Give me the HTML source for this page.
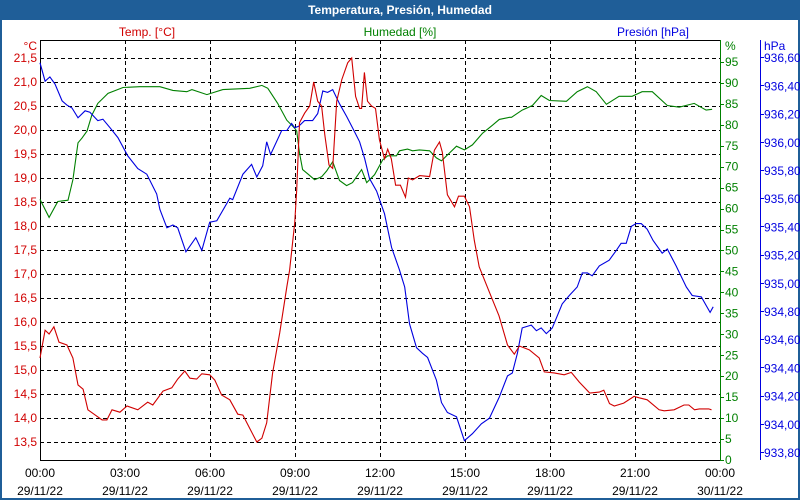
<!DOCTYPE html>
<html><head><meta charset="utf-8">
<style>
html,body{margin:0;padding:0;background:#fff;}
#win{position:relative;width:800px;height:500px;overflow:hidden;background:#fff;font-family:"Liberation Sans",sans-serif;}
#title{position:absolute;left:0;top:0;width:800px;height:20px;background:#1f5e98;color:#fff;font-weight:bold;font-size:12px;text-align:center;line-height:20px;}
#bl{position:absolute;left:0;top:20px;width:2px;height:480px;background:#1f5e98;}
#br{position:absolute;right:0;top:20px;width:2px;height:480px;background:#1f5e98;}
#bb{position:absolute;left:0;bottom:0;width:800px;height:2px;background:#1f5e98;}
svg{position:absolute;left:0;top:0;}
svg text{font-family:"Liberation Sans",sans-serif;font-size:12px;}
</style></head><body>
<div id="win">
<div id="title">Temperatura, Presión, Humedad</div>
<div id="bl"></div>
<div id="br"></div>
<div id="bb"></div>
<svg id="chart" width="800" height="500"></svg>
</div>
<script>
const timeTicks=["00:00","03:00","06:00","09:00","12:00","15:00","18:00","21:00","00:00"];
const dateTicks=["29/11/22","29/11/22","29/11/22","29/11/22","29/11/22","29/11/22","29/11/22","29/11/22","30/11/22"];
const tempTicks=[13.5,14.0,14.5,15.0,15.5,16.0,16.5,17.0,17.5,18.0,18.5,19.0,19.5,20.0,20.5,21.0,21.5];
const humTicks=[0,5,10,15,20,25,30,35,40,45,50,55,60,65,70,75,80,85,90,95];
const presTicks=[933.8,934.0,934.2,934.4,934.6,934.8,935.0,935.2,935.4,935.6,935.8,936.0,936.2,936.4,936.6];

const tempH=[0,0.18,0.32,0.49,0.67,0.95,1.16,1.34,1.52,1.69,2.19,2.36,2.54,2.82,3.07,3.45,3.8,3.98,4.34,4.65,4.86,5.11,5.29,5.53,5.71,5.99,6.17,6.41,6.7,6.98,7.16,7.65,7.83,8.0,8.21,8.46,8.71,8.81,8.99,9.06,9.16,9.34,9.52,9.66,9.8,9.94,10.05,10.2,10.33,10.47,10.65,10.86,11.0,11.14,11.28,11.35,11.45,11.56,11.7,11.84,11.98,12.16,12.27,12.4,12.55,12.72,12.9,13.0,13.15,13.4,13.75,13.92,14.1,14.2,14.38,14.63,14.77,14.98,15.16,15.33,15.5,15.86,16.2,16.5,16.74,16.92,17.27,17.62,17.8,18.15,18.5,18.75,19.03,19.4,19.74,19.9,20.1,20.27,20.6,20.97,21.15,21.43,21.85,22.03,22.38,22.73,22.9,23.1,23.27,23.6,23.7];
const tempV=[15.25,15.83,15.75,15.9,15.58,15.52,15.25,14.69,14.6,14.17,13.96,13.96,14.17,14.12,14.25,14.17,14.33,14.27,14.56,14.63,14.81,14.98,14.83,14.81,14.92,14.9,14.79,14.48,14.38,14.08,14.06,13.5,13.58,13.9,14.94,15.77,16.73,17.08,18.06,18.75,20.15,20.35,20.5,21.0,20.6,20.5,19.9,19.27,19.2,20.6,21.05,21.4,21.5,20.7,20.45,20.45,21.2,20.6,20.5,20.45,19.8,19.4,19.6,19.4,18.85,18.85,18.6,19.0,18.96,19.05,19.03,19.58,19.75,19.54,18.65,18.4,18.62,18.62,18.4,17.7,17.15,16.62,16.13,15.52,15.33,15.5,15.42,15.25,14.96,14.94,14.9,14.95,14.75,14.52,14.54,14.58,14.3,14.25,14.31,14.45,14.42,14.38,14.17,14.15,14.17,14.27,14.27,14.17,14.19,14.19,14.17];

const humH=[0,0.32,0.63,0.99,1.16,1.34,1.48,1.66,1.83,2.04,2.4,2.93,3.52,4.23,4.69,5.18,5.36,5.89,6.45,7.4,7.83,8.04,8.39,8.71,8.99,9.06,9.16,9.27,9.45,9.69,9.94,10.12,10.33,10.57,10.82,11.03,11.35,11.53,11.81,12.09,12.27,12.58,12.69,12.97,13.15,13.39,13.75,13.99,14.17,14.38,14.7,14.98,15.26,15.62,15.97,16.21,16.57,16.64,17.02,17.38,17.69,17.98,18.58,18.96,19.32,19.63,19.99,20.44,20.9,21.25,21.61,22.14,22.56,23.09,23.51,23.72];
const humV=[62.2,57.9,61.7,62,66.9,75.7,76.8,78.5,82.3,85.1,87.5,88.9,89.1,89.1,88.2,87.9,88.4,87.2,88.4,88.7,89.4,88.7,85.1,81.1,79.2,78.5,73.3,69.3,68.3,66.9,67.6,69,71.2,66.7,65.5,66.2,69.3,66.2,68.1,71.6,72.6,72.6,73.8,74.2,73.8,74,73.8,72.1,71.4,72.8,74.9,74,75.2,78,79.9,81.3,81.8,81.8,83.5,84.6,87,85.8,85.6,87.9,89.1,87.9,84.9,86.8,86.8,87.9,87.9,84.6,84.2,85.1,83.5,83.7];

const presH=[0,0.18,0.35,0.53,0.78,0.95,1.13,1.34,1.59,1.76,2.04,2.22,2.47,2.75,3.1,3.45,3.77,4.12,4.23,4.48,4.69,4.86,5.15,5.5,5.71,5.99,6.24,6.7,6.8,7.16,7.47,7.65,7.86,8.0,8.14,8.53,8.71,8.88,8.99,9.13,9.34,9.62,9.8,9.98,10.15,10.33,10.57,10.82,11.03,11.28,11.46,11.63,11.88,12.16,12.41,12.69,12.87,13.04,13.29,13.5,13.68,13.99,14.17,14.38,14.7,14.98,15.26,15.58,15.86,16.21,16.5,16.67,16.85,17.02,17.34,17.52,17.69,17.87,18.08,18.43,18.68,18.96,19.14,19.32,19.49,19.74,20.09,20.34,20.51,20.69,20.87,21.04,21.22,21.43,21.64,21.96,22.14,22.45,22.81,23.02,23.34,23.51,23.65,23.76];
const presV=[936.56,936.43,936.46,936.41,936.29,936.26,936.24,936.17,936.22,936.21,936.15,936.16,936.1,936.03,935.9,935.81,935.77,935.63,935.52,935.39,935.41,935.39,935.22,935.32,935.23,935.43,935.44,935.6,935.59,935.77,935.84,935.75,935.83,936.0,935.91,936.08,936.08,936.13,936.1,936.11,936.15,936.15,936.2,936.36,936.35,936.37,936.27,936.18,936.1,936.0,935.88,935.74,935.65,935.49,935.25,935.09,934.97,934.71,934.54,934.5,934.47,934.31,934.15,934.08,934.05,933.88,933.93,934.0,934.04,934.19,934.34,934.36,934.5,934.68,934.7,934.66,934.68,934.64,934.68,934.85,934.91,934.97,935.07,935.07,935.05,935.12,935.16,935.23,935.28,935.28,935.4,935.42,935.42,935.38,935.3,935.21,935.24,935.12,934.97,934.91,934.9,934.84,934.79,934.83];

const L=40,R=720,T=40,B=460;
const xS=h=>L+h*(R-L)/24;
const yT=t=>442-(t-13.5)*48;
const yH=v=>460-v*4.19;
const yP=p=>452-(p-933.8)/0.2*28.2;
const svg=document.getElementById('chart');
const NS='http://www.w3.org/2000/svg';
function mk(tag,attrs,parent){const e=document.createElementNS(NS,tag);for(const k in attrs)e.setAttribute(k,attrs[k]);(parent||svg).appendChild(e);return e;}
function txt(x,y,s,fill,anchor){const e=mk('text',{x:x,y:y,fill:fill,'text-anchor':anchor||'start'});e.textContent=s;return e;}

tempTicks.forEach((t,i)=>{const g=mk('line',{x1:L,x2:R,y1:yT(t)+0.5,y2:yT(t)+0.5,stroke:'#000','stroke-dasharray':'4,3'});

});
timeTicks.forEach((s,i)=>{if(i==0||i==timeTicks.length-1)return;const x=Math.round(xS(i*3))+0.5;const g=mk('line',{x1:x,x2:x,y1:T,y2:B,stroke:'#000','stroke-dasharray':'4,3'});

});

const fr=mk('path',{d:`M${L+0.5},${B} L${L+0.5},${T+0.5} L${R},${T+0.5}`,stroke:'#000',fill:'none'});


const xb=mk('line',{x1:L,x2:R,y1:B+0.5,y2:B+0.5,stroke:'#000'});


const ga=mk('line',{x1:R+0.5,x2:R+0.5,y1:T,y2:B+1,stroke:'#008000'});


const pa=mk('line',{x1:760.5,x2:760.5,y1:T,y2:B,stroke:'#0000e0'});



tempTicks.forEach(t=>{const e=txt(37,yT(t)+4,t.toFixed(1).replace('.',','),'#d00000','end');

});
humTicks.forEach(v=>{const y=yH(v);const tk=mk('line',{x1:R,x2:R+4,y1:Math.round(y)+0.5,y2:Math.round(y)+0.5,stroke:'#008000'});


const e=txt(725,y+4,String(v),'#008000');

});
presTicks.forEach(p=>{const y=yP(p);const tk=mk('line',{x1:760,x2:764,y1:Math.round(y)+0.5,y2:Math.round(y)+0.5,stroke:'#0000e0'});


const e=txt(764,y+5,p.toFixed(2).replace('.',','),'#0000e0');

});
timeTicks.forEach((s,i)=>{const x=xS(i*3);const a=txt(x,477,s,'#000','middle');


const b=txt(x,495,dateTicks[i],'#000','middle');

});

[[37,50,'°C','#d00000','end','temp-unit'],[147,36,'Temp. [°C]','#d00000','middle','temp-series-title'],[400,36,'Humedad [%]','#008000','middle','humidity-series-title'],[653,36,'Presión [hPa]','#0000e0','middle','pressure-series-title'],[725,50,'%','#008000','start','humidity-unit'],[764,50,'hPa','#0000e0','start','pressure-unit']].forEach(a=>{const e=txt(a[0],a[1],a[2],a[3],a[4]);

});

function line(hs,vs,yf,col,name){const d=hs.map((h,i)=>(i?'L':'M')+xS(h).toFixed(1)+','+yf(vs[i]).toFixed(1)).join(' ');const p=mk('path',{d:d,stroke:col,fill:'none','stroke-width':1.1});

}
line(humH,humV,yH,'#008000','humidity-line');
line(presH,presV,yP,'#0000e0','pressure-line');
line(tempH,tempV,yT,'#d00000','temperature-line');
</script>
</body></html>
